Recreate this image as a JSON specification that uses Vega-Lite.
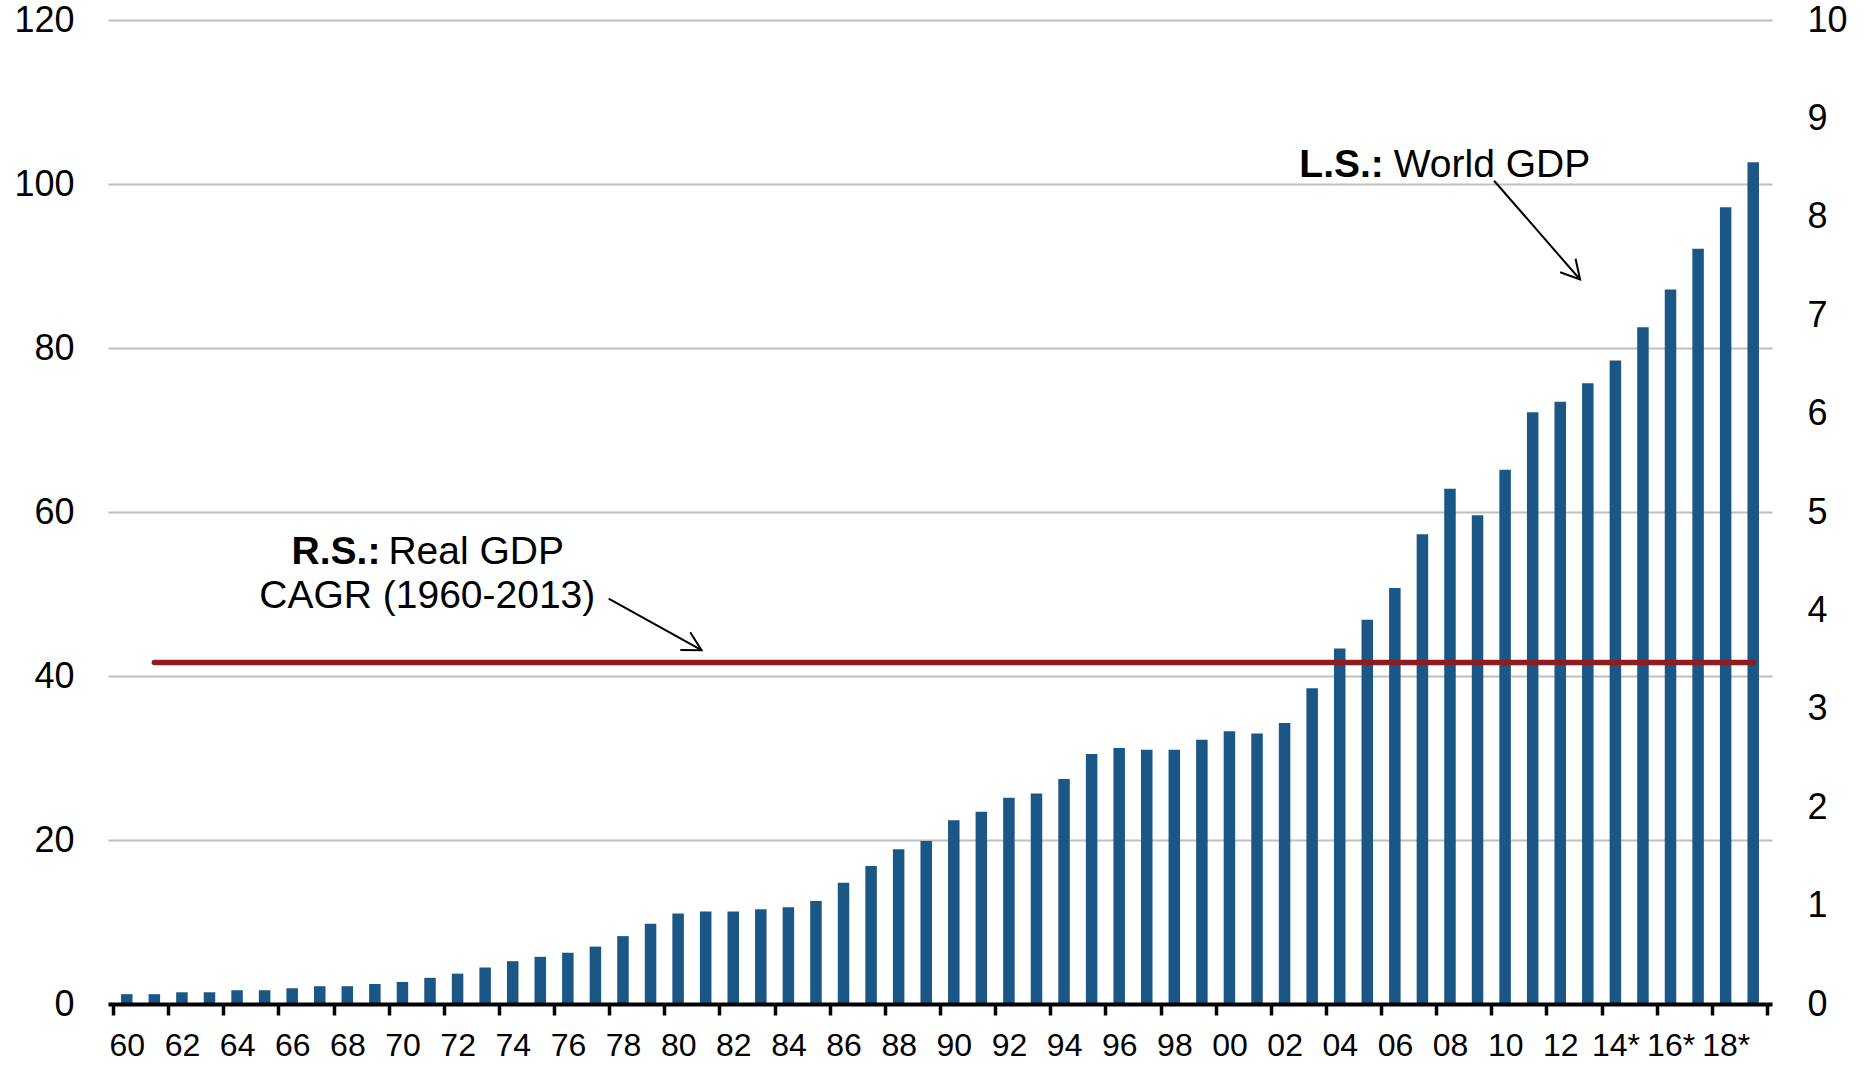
{
  "$schema": "https://vega.github.io/schema/vega-lite/v6.json",
  "width": 1664,
  "height": 984,
  "autosize": {"type": "none"},
  "padding": {"left": 108, "top": 20, "right": 103, "bottom": 63},
  "background": "white",
  "config": {
    "view": {"stroke": null},
    "font": "Liberation Sans, Arial, sans-serif",
    "axis": {"labelFont": "Liberation Sans, Arial, sans-serif", "labelColor": "#000000"}
  },
  "datasets": {
    "gdp": [
      {"year": 1960, "world_gdp": 1.2},
      {"year": 1961, "world_gdp": 1.2},
      {"year": 1962, "world_gdp": 1.43},
      {"year": 1963, "world_gdp": 1.43},
      {"year": 1964, "world_gdp": 1.68},
      {"year": 1965, "world_gdp": 1.68},
      {"year": 1966, "world_gdp": 1.92},
      {"year": 1967, "world_gdp": 2.17},
      {"year": 1968, "world_gdp": 2.17},
      {"year": 1969, "world_gdp": 2.44},
      {"year": 1970, "world_gdp": 2.69},
      {"year": 1971, "world_gdp": 3.19},
      {"year": 1972, "world_gdp": 3.7},
      {"year": 1973, "world_gdp": 4.45},
      {"year": 1974, "world_gdp": 5.22},
      {"year": 1975, "world_gdp": 5.75},
      {"year": 1976, "world_gdp": 6.25},
      {"year": 1977, "world_gdp": 7.0},
      {"year": 1978, "world_gdp": 8.28},
      {"year": 1979, "world_gdp": 9.78},
      {"year": 1980, "world_gdp": 11.05},
      {"year": 1981, "world_gdp": 11.28},
      {"year": 1982, "world_gdp": 11.28},
      {"year": 1983, "world_gdp": 11.54},
      {"year": 1984, "world_gdp": 11.79},
      {"year": 1985, "world_gdp": 12.56},
      {"year": 1986, "world_gdp": 14.8},
      {"year": 1987, "world_gdp": 16.84},
      {"year": 1988, "world_gdp": 18.88},
      {"year": 1989, "world_gdp": 19.89},
      {"year": 1990, "world_gdp": 22.4},
      {"year": 1991, "world_gdp": 23.46},
      {"year": 1992, "world_gdp": 25.15},
      {"year": 1993, "world_gdp": 25.66},
      {"year": 1994, "world_gdp": 27.44},
      {"year": 1995, "world_gdp": 30.5},
      {"year": 1996, "world_gdp": 31.22},
      {"year": 1997, "world_gdp": 31.0},
      {"year": 1998, "world_gdp": 31.0},
      {"year": 1999, "world_gdp": 32.24},
      {"year": 2000, "world_gdp": 33.26},
      {"year": 2001, "world_gdp": 33.0},
      {"year": 2002, "world_gdp": 34.27},
      {"year": 2003, "world_gdp": 38.5},
      {"year": 2004, "world_gdp": 43.35},
      {"year": 2005, "world_gdp": 46.87},
      {"year": 2006, "world_gdp": 50.73},
      {"year": 2007, "world_gdp": 57.3},
      {"year": 2008, "world_gdp": 62.85},
      {"year": 2009, "world_gdp": 59.6},
      {"year": 2010, "world_gdp": 65.14},
      {"year": 2011, "world_gdp": 72.16},
      {"year": 2012, "world_gdp": 73.46},
      {"year": 2013, "world_gdp": 75.71},
      {"year": 2014, "world_gdp": 78.47},
      {"year": 2015, "world_gdp": 82.52},
      {"year": 2016, "world_gdp": 87.12},
      {"year": 2017, "world_gdp": 92.09},
      {"year": 2018, "world_gdp": 97.15},
      {"year": 2019, "world_gdp": 102.66}
    ],
    "cagr": [
      {"year": 1961, "rate": 3.47},
      {"year": 2019, "rate": 3.47}
    ]
  },
  "layer": [
    {
      "layer": [
        {
          "data": {"name": "gdp"},
          "mark": {"type": "bar", "width": 11.5, "color": "#1B5786"},
          "encoding": {
            "x": {
              "field": "year",
              "type": "quantitative",
              "scale": {"domain": [1959.5, 2019.5], "nice": false, "zero": false},
              "axis": {
                "title": null,
                "values": [1959.5, 1960.5, 1961.5, 1962.5, 1963.5, 1964.5, 1965.5, 1966.5, 1967.5, 1968.5, 1969.5, 1970.5, 1971.5, 1972.5, 1973.5, 1974.5, 1975.5, 1976.5, 1977.5, 1978.5, 1979.5, 1980.5, 1981.5, 1982.5, 1983.5, 1984.5, 1985.5, 1986.5, 1987.5, 1988.5, 1989.5, 1990.5, 1991.5, 1992.5, 1993.5, 1994.5, 1995.5, 1996.5, 1997.5, 1998.5, 1999.5, 2000.5, 2001.5, 2002.5, 2003.5, 2004.5, 2005.5, 2006.5, 2007.5, 2008.5, 2009.5, 2010.5, 2011.5, 2012.5, 2013.5, 2014.5, 2015.5, 2016.5, 2017.5, 2018.5, 2019.5],
                "labelExpr": "(datum.value + 0.5) % 2 === 0 && datum.value < 2019 ? substring(toString(datum.value + 0.5), 2, 4) + (datum.value > 2013 ? '*' : '') : ''",
                "labelOffset": 13.87,
                "labelFontSize": 32,
                "labelPadding": 15,
                "labelOverlap": false,
                "labelFlush": false,
                "labelBound": false,
                "tickColor": "#000000",
                "tickWidth": 3.5,
                "tickSize": 11,
                "domainColor": "#000000",
                "domainWidth": 4,
                "grid": false,
                "zindex": 1
              }
            },
            "y": {
              "field": "world_gdp",
              "type": "quantitative",
              "scale": {"domain": [0, 120], "nice": false},
              "axis": {
                "orient": "left",
                "title": null,
                "values": [0, 20, 40, 60, 80, 100, 120],
                "labelFontSize": 36,
                "labelPadding": 34,
                "ticks": false,
                "tickSize": 0,
                "domain": false,
                "grid": true,
                "gridColor": "#BFBFBF",
                "gridWidth": 2
              }
            }
          }
        },
        {
          "data": {"values": [{}]},
          "layer": [
            {
              "mark": {"type": "text", "text": "R.S.:", "fontWeight": "bold", "fontSize": 39, "align": "right", "baseline": "alphabetic", "color": "#000000"},
              "encoding": {"x": {"datum": 1969.2}, "y": {"datum": 53.6}}
            },
            {
              "mark": {"type": "text", "text": "Real GDP", "fontSize": 39, "align": "left", "baseline": "alphabetic", "color": "#000000"},
              "encoding": {"x": {"datum": 1969.49}, "y": {"datum": 53.6}}
            },
            {
              "mark": {"type": "text", "text": "CAGR (1960-2013)", "fontSize": 39, "align": "center", "baseline": "alphabetic", "color": "#000000"},
              "encoding": {"x": {"datum": 1970.9}, "y": {"datum": 48.34}}
            },
            {
              "mark": {"type": "text", "text": "L.S.:", "fontWeight": "bold", "fontSize": 39, "align": "right", "baseline": "alphabetic", "color": "#000000"},
              "encoding": {"x": {"datum": 2005.6}, "y": {"datum": 100.9}}
            },
            {
              "mark": {"type": "text", "text": "World GDP", "fontSize": 39, "align": "left", "baseline": "alphabetic", "color": "#000000"},
              "encoding": {"x": {"datum": 2005.96}, "y": {"datum": 100.9}}
            },
            {
              "mark": {"type": "rule", "color": "#000000", "strokeWidth": 2},
              "encoding": {
                "x": {"datum": 1977.48}, "x2": {"datum": 1980.85},
                "y": {"datum": 49.45}, "y2": {"datum": 43.15}
              }
            },
            {
              "mark": {"type": "point", "shape": "M-1,-0.55L0,0L-1,0.55", "filled": false, "stroke": "#000000", "strokeWidth": 2, "size": 1384, "angle": 29, "opacity": 1},
              "encoding": {"x": {"datum": 1980.85}, "y": {"datum": 43.15}}
            },
            {
              "mark": {"type": "rule", "color": "#000000", "strokeWidth": 2},
              "encoding": {
                "x": {"datum": 2009.6}, "x2": {"datum": 2012.72},
                "y": {"datum": 100.4}, "y2": {"datum": 88.35}
              }
            },
            {
              "mark": {"type": "point", "shape": "M-1,-0.55L0,0L-1,0.55", "filled": false, "stroke": "#000000", "strokeWidth": 2, "size": 1384, "angle": 48.8, "opacity": 1},
              "encoding": {"x": {"datum": 2012.72}, "y": {"datum": 88.35}}
            }
          ]
        }
      ]
    },
    {
      "data": {"name": "cagr"},
      "mark": {"type": "line", "color": "#8E1C21", "strokeWidth": 5.5, "strokeCap": "round"},
      "encoding": {
        "x": {"field": "year", "type": "quantitative", "axis": {"title": null}},
        "y": {
          "field": "rate",
          "type": "quantitative",
          "scale": {"domain": [0, 10], "nice": false},
          "axis": {
            "orient": "right",
            "title": null,
            "values": [0, 1, 2, 3, 4, 5, 6, 7, 8, 9, 10],
            "labelFontSize": 36,
            "labelPadding": 35,
            "ticks": false,
            "tickSize": 0,
            "domain": false,
            "grid": false
          }
        }
      }
    }
  ],
  "resolve": {"scale": {"y": "independent"}}
}
